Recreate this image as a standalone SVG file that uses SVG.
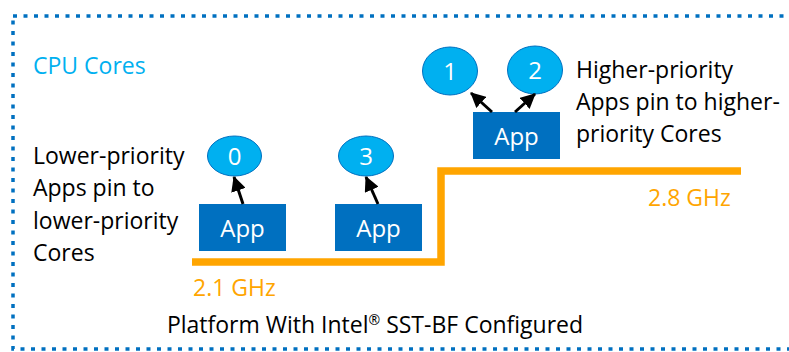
<svg xmlns="http://www.w3.org/2000/svg" width="789" height="352" viewBox="0 0 789 352">
  <style>
    text { font-family: "Open Sans", "Liberation Sans", sans-serif; font-size: 23px; }
    .dark { fill: #000000; }
    .cyan { fill: #00B0F0; }
    .amber { fill: #FFA500; }
    .white { fill: #FFFFFF; }
    .app rect { fill: #0070C0; }
    .app text { font-size: 24px; }
    .core ellipse { fill: #00B0F0; stroke: #0070C0; stroke-width: 1; }
    .core text { font-size: 24px; }
    .link { stroke: #000000; stroke-width: 3; fill: none; marker-end: url(#head); }
  </style>
  <defs>
    <marker id="head" markerUnits="userSpaceOnUse" markerWidth="15" markerHeight="15" viewBox="0 0 15 15" refX="14" refY="7.5" orient="auto">
      <path d="M0,0 L15,7.5 L0,15 Z" fill="#000000"/>
    </marker>
  </defs>

  <rect width="789" height="352" fill="#FFFFFF"/>

  <!-- platform boundary -->
  <rect id="platform" x="13" y="16" width="800" height="333" fill="none" stroke="#0070C0" stroke-width="3.5" stroke-dasharray="4 6.5"/>

  <text class="cyan" x="33" y="74">CPU Cores</text>

  <!-- frequency step -->
  <path id="freq-step" d="M192,262 H441 V171 H741" fill="none" stroke="#FFA500" stroke-width="7.5"/>
  <text class="amber" x="193" y="296">2.1 GHz</text>
  <text class="amber" x="648" y="206">2.8 GHz</text>

  <!-- captions -->
  <text class="dark" x="33" y="164">Lower-priority</text>
  <text class="dark" x="33" y="196">Apps pin to</text>
  <text class="dark" x="33" y="229">lower-priority</text>
  <text class="dark" x="33" y="261">Cores</text>

  <text class="dark" x="576" y="78">Higher-priority</text>
  <text class="dark" x="576" y="110">Apps pin to higher-</text>
  <text class="dark" x="576" y="142">priority Cores</text>

  <text class="dark" x="375" y="333" text-anchor="middle">Platform With Intel<tspan font-size="14" dy="-8">®</tspan><tspan dy="8"> SST-BF Configured</tspan></text>

  <!-- cores -->
  <g id="core-0" class="core">
    <ellipse cx="234.5" cy="156" rx="27" ry="20"/>
    <text class="white" x="234.5" y="164.5" text-anchor="middle">0</text>
  </g>
  <g id="core-3" class="core">
    <ellipse cx="366" cy="156" rx="27.5" ry="20"/>
    <text class="white" x="366" y="164.5" text-anchor="middle">3</text>
  </g>
  <g id="core-1" class="core">
    <ellipse cx="450" cy="71" rx="27.5" ry="24"/>
    <text class="white" x="450" y="79.5" text-anchor="middle">1</text>
  </g>
  <g id="core-2" class="core">
    <ellipse cx="535" cy="70" rx="27.5" ry="24"/>
    <text class="white" x="535" y="78.5" text-anchor="middle">2</text>
  </g>

  <!-- applications -->
  <g id="app-low-a" class="app">
    <rect x="199" y="204" width="87" height="47"/>
    <text class="white" x="242.5" y="237" text-anchor="middle">App</text>
  </g>
  <g id="app-low-b" class="app">
    <rect x="335" y="204" width="87" height="47"/>
    <text class="white" x="378.5" y="237" text-anchor="middle">App</text>
  </g>
  <g id="app-high" class="app">
    <rect x="473" y="112" width="87" height="47"/>
    <text class="white" x="516.5" y="145" text-anchor="middle">App</text>
  </g>

  <!-- pinning connectors -->
  <g id="connectors">
    <line class="link" x1="243" y1="204" x2="234" y2="177"/>
    <line class="link" x1="378" y1="204" x2="366" y2="177"/>
    <line class="link" x1="492" y1="112" x2="471" y2="93"/>
    <line class="link" x1="515" y1="112" x2="535" y2="94"/>
  </g>
</svg>
